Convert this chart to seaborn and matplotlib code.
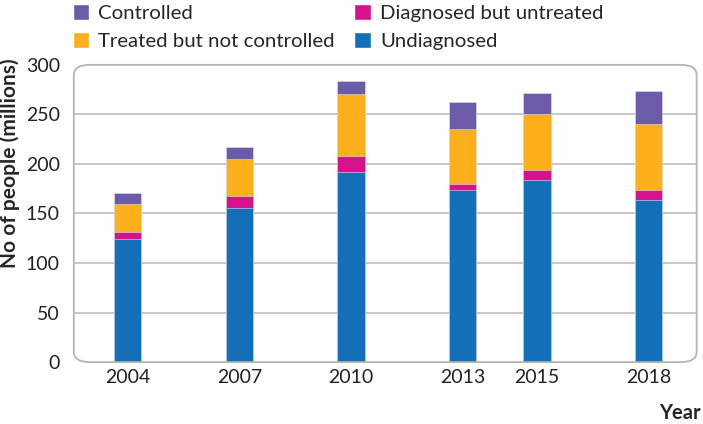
import matplotlib
matplotlib.use("Agg")
import matplotlib.pyplot as plt
from matplotlib.patches import FancyBboxPatch, Patch
import seaborn as sns
import pandas as pd
import numpy as np

years = [2004, 2007, 2010, 2013, 2015, 2018]
undiagnosed = [124, 156, 192, 174, 183.5, 164]
diagnosed_untreated = [7, 12, 16, 6, 10.5, 10]
treated_not_controlled = [29, 37, 63, 55, 56, 66]
controlled = [11, 12, 13, 28, 22, 34]

labels = ["Undiagnosed", "Diagnosed but untreated", "Treated but not controlled", "Controlled"]
colors = ["#1370b8", "#d5128b", "#fdb01b", "#6c5ba8"]

sns.set_style("white")
plt.rcParams["font.family"] = ["Lato", "DejaVu Sans"]

fig = plt.figure(figsize=(7.03, 4.24), dpi=100)
ax = fig.add_axes([0.105, 0.146, 0.886, 0.701])

layers = [undiagnosed, diagnosed_untreated, treated_not_controlled, controlled]
cum = np.cumsum(np.array(layers), axis=0)
# draw totals from top down so each layer covers the one above it
for i in range(len(layers) - 1, -1, -1):
    df = pd.DataFrame({"year": years, "value": cum[i]})
    sns.barplot(data=df, x="year", y="value", native_scale=True, width=0.37,
                color=colors[i], saturation=1, edgecolor="#d9e6f2", linewidth=0.4,
                ax=ax, zorder=3)

ax.set_xlim(2002.55, 2019.3)
ax.set_ylim(0, 300)
ax.set_xticks(years)
ax.set_xticklabels([str(y) for y in years], fontsize=14, color="#222222")
ax.set_yticks(range(0, 301, 50))
ax.tick_params(axis="y", labelsize=14, colors="#222222", length=0, pad=10)
ax.tick_params(axis="x", length=0, pad=5)
for v in range(50, 300, 50):
    ax.axhline(v, color="#bdbdbd", lw=1.2, zorder=1)
for s in ax.spines.values():
    s.set_visible(False)
ax.set_xlabel("")
ax.set_ylabel("No of people (millions)", fontsize=15, fontweight="bold")
ax.yaxis.set_label_coords(-0.086, 0.67)

frame = FancyBboxPatch((0, 0), 1, 1, boxstyle="round,pad=0,rounding_size=0.025",
                       transform=ax.transAxes, fill=False, edgecolor="#b5b5b5",
                       lw=1.3, zorder=4, clip_on=False, mutation_aspect=1.4)
ax.add_patch(frame)

fig.text(0.997, 0.012, "Year", fontsize=14.5, fontweight="bold", ha="right", va="baseline")

order = [3, 2, 1, 0]
handles = [Patch(facecolor=colors[i], label=labels[i]) for i in order]
fig.legend(handles=handles, ncol=2, loc="upper left", bbox_to_anchor=(0.092, 1.01),
           frameon=False, fontsize=14.7, handlelength=0.8, handleheight=0.8,
           handletextpad=0.45, columnspacing=0.95, labelspacing=0.5, borderaxespad=0)

fig.savefig("out.png", dpi=100)
